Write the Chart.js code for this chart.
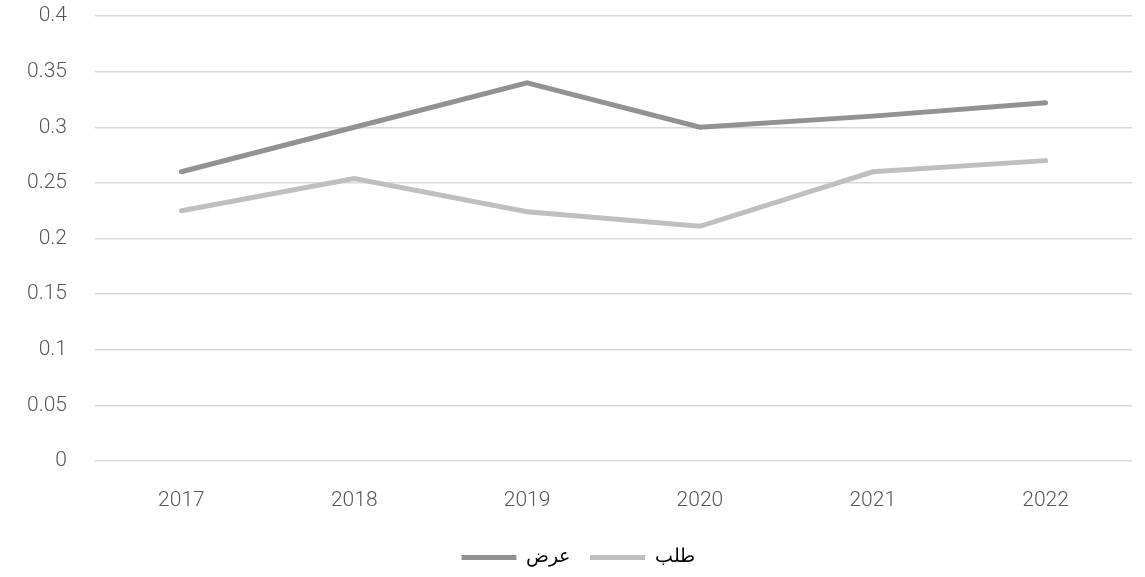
<!DOCTYPE html>
<html>
<head>
<meta charset="utf-8">
<script src="https://cdn.jsdelivr.net/npm/chart.js@4/dist/chart.umd.min.js"></script>
<style>
  html, body { margin:0; padding:0; background:#fff; }
  #wrap { width:1145px; height:577px; position:relative; }
</style>
</head>
<body>
<div id="wrap"><canvas id="chart"></canvas></div>
<script>
const years = ['2017', '2018', '2019', '2020', '2021', '2022'];
const offerVals = [0.26, 0.30, 0.34, 0.30, 0.31, 0.322];   // عرض
const demandVals = [0.225, 0.254, 0.224, 0.211, 0.26, 0.27]; // طلب
const yTicks = [0, 0.05, 0.1, 0.15, 0.2, 0.25, 0.3, 0.35, 0.4];

Chart.defaults.font.family = "Roboto, 'Noto Sans', sans-serif";
Chart.defaults.font.weight = 300;
Chart.defaults.color = '#595959';

const ctx = document.getElementById('chart').getContext('2d');
new Chart(ctx, {
  type: 'line',
  data: {
    labels: years,
    datasets: [
      { label: 'عرض', data: offerVals, borderColor: '#929292', backgroundColor: '#929292',
        borderWidth: 5, pointRadius: 0, tension: 0, borderCapStyle: 'round' },
      { label: 'طلب', data: demandVals, borderColor: '#bfbfbf', backgroundColor: '#bfbfbf',
        borderWidth: 5, pointRadius: 0, tension: 0, borderCapStyle: 'round' }
    ]
  },
  options: {
    responsive: true,
    maintainAspectRatio: false,
    animation: false,
    layout: { padding: { left: 24, right: 13, top: 0, bottom: 0 } },
    plugins: {
      tooltip: { enabled: false },
      legend: {
        position: 'bottom',
        labels: {
          boxWidth: 55, boxHeight: 5, padding: 20,
          font: { size: 19, weight: 300 }, color: '#595959',
          generateLabels: (chart) => chart.data.datasets.map((d, i) => ({
            text: d.label, fillStyle: d.borderColor, strokeStyle: d.borderColor,
            lineWidth: 0, datasetIndex: i, hidden: false
          }))
        }
      }
    },
    scales: {
      x: {
        offset: true,
        grid: { display: false },
        border: { display: false },
        ticks: { font: { size: 21 }, color: '#595959', padding: 19, maxRotation: 0 },
        afterFit: (s) => { s.height = 67; s.paddingLeft = 0; s.paddingRight = 0; }
      },
      y: {
        min: 0, max: 0.4,
        afterBuildTicks: (axis) => { axis.ticks = yTicks.map(v => ({ value: v })); },
        grid: { color: '#d9d9d9', lineWidth: 1.5, drawTicks: false },
        border: { display: false },
        ticks: { font: { size: 21 }, color: '#595959', padding: 28,
                 callback: (v) => String(v) },
        afterFit: (s) => { s.width = 71; s.paddingTop = 16; s.paddingBottom = 0; }
      }
    }
  }
});
</script>
</body>
</html>
